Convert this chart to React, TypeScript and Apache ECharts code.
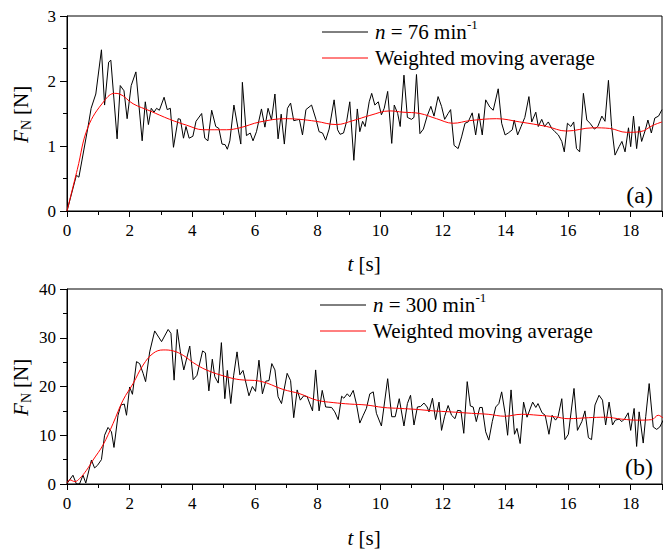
import React, { useEffect, useRef } from "react";
import * as echarts from "echarts";

// Panel (a): n = 76 min^-1, raw measured force [t (s), F_N (N)]
const rawA: [number, number][] = [
  [0, 0], [0.3, 0.55], [0.38, 0.52], [0.67, 1.29], [0.77, 1.58], [0.92, 1.8], [1.1, 2.48], [1.2, 1.63],
  [1.33, 2.29], [1.4, 2.32], [1.6, 1.11], [1.7, 1.93], [1.82, 1.85], [1.92, 1.42], [2.05, 1.93], [2.2, 2.14],
  [2.4, 1.08], [2.5, 1.68], [2.6, 1.33], [2.69, 1.58], [2.78, 1.52], [2.86, 1.58], [2.95, 1.55], [3.1, 1.75],
  [3.2, 1.56], [3.3, 1.58], [3.4, 0.98], [3.55, 1.42], [3.62, 1.41], [3.72, 1.12], [3.8, 1.3], [3.9, 1.12],
  [4.02, 1.15], [4.12, 1.38], [4.3, 1.5], [4.4, 1.12], [4.5, 1.08], [4.62, 1.55], [4.75, 1.3], [4.85, 1.27],
  [4.95, 1.03], [5.05, 1.02], [5.12, 0.95], [5.2, 1.08], [5.33, 1.63], [5.55, 1.03], [5.6, 1.98], [5.73, 1.16],
  [5.85, 1.2], [5.94, 1.08], [6.05, 1.22], [6.21, 1.57], [6.32, 1.29], [6.42, 1.58], [6.53, 1.4], [6.64, 1.8],
  [6.74, 1.11], [6.84, 1.49], [6.94, 1.03], [7.04, 1.58], [7.14, 1.66], [7.24, 1.39], [7.33, 1.4], [7.42, 1.41],
  [7.52, 1.17], [7.63, 1.56], [7.81, 1.63], [7.95, 1.41], [8.05, 1.22], [8.16, 1.2], [8.26, 1.09], [8.37, 1.26],
  [8.53, 1.71], [8.64, 1.25], [8.72, 1.18], [8.83, 1.2], [8.93, 1.38], [9.03, 1.68], [9.16, 0.78], [9.27, 1.57],
  [9.35, 1.22], [9.44, 1.38], [9.52, 1.3], [9.65, 1.68], [9.73, 1.81], [9.83, 1.63], [9.94, 1.68], [10.04, 1.48],
  [10.13, 1.58], [10.24, 1.84], [10.37, 1.04], [10.45, 1.63], [10.56, 1.5], [10.64, 1.3], [10.76, 2.09], [10.87, 1.44],
  [11.0, 1.41], [11.08, 1.44], [11.16, 2.1], [11.27, 1.19], [11.38, 1.26], [11.5, 1.46], [11.62, 1.61], [11.72, 1.46],
  [11.85, 1.76], [11.96, 1.61], [12.06, 1.41], [12.17, 1.5], [12.25, 1.56], [12.36, 1.01], [12.49, 0.96], [12.6, 1.14],
  [12.71, 1.35], [12.81, 1.37], [12.94, 1.51], [13.05, 1.17], [13.15, 1.5], [13.26, 1.17], [13.37, 1.71], [13.5, 1.6],
  [13.61, 1.55], [13.77, 1.88], [13.88, 1.35], [13.99, 1.17], [14.09, 1.2], [14.22, 1.25], [14.28, 1.4], [14.39, 1.17],
  [14.5, 1.3], [14.62, 1.44], [14.75, 1.76], [14.84, 1.37], [14.97, 1.52], [15.05, 1.3], [15.16, 1.41], [15.25, 1.3],
  [15.37, 1.37], [15.48, 1.27], [15.58, 1.22], [15.69, 1.17], [15.8, 1.07], [15.88, 0.91], [15.98, 1.35], [16.09, 1.3],
  [16.18, 1.37], [16.27, 0.96], [16.37, 0.91], [16.49, 1.81], [16.6, 1.4], [16.7, 1.35], [16.84, 1.26], [16.95, 1.3],
  [17.08, 1.46], [17.18, 1.38], [17.29, 2.01], [17.39, 1.3], [17.5, 0.86], [17.63, 0.99], [17.72, 1.07], [17.82, 0.91],
  [17.93, 1.28], [18.0, 0.99], [18.09, 1.46], [18.19, 0.96], [18.27, 1.3], [18.35, 1.07], [18.47, 1.25], [18.55, 1.4],
  [18.66, 1.2], [18.77, 1.43], [18.89, 1.46], [19.0, 1.56],
];

// Panel (a): weighted moving average
const avgA: [number, number][] = [
  [0, 0], [0.33, 0.64], [0.67, 1.29], [1.2, 1.7], [1.52, 1.81], [1.68, 1.8], [2.11, 1.65], [2.65, 1.54],
  [3.28, 1.41], [3.82, 1.32], [4.35, 1.25], [5.09, 1.25], [5.52, 1.28], [6.16, 1.37], [7.0, 1.42], [7.43, 1.41],
  [7.95, 1.38], [8.6, 1.33], [9.13, 1.39], [9.67, 1.47], [10.31, 1.54], [10.73, 1.52], [11.27, 1.5], [11.8, 1.42],
  [12.33, 1.35], [12.86, 1.39], [13.72, 1.42], [14.46, 1.37], [15.32, 1.3], [15.95, 1.23], [16.8, 1.28], [17.33, 1.27],
  [17.87, 1.21], [18.3, 1.22], [18.72, 1.32], [19.0, 1.37],
];

// Panel (b): n = 300 min^-1, raw measured force
const rawB: [number, number][] = [
  [0, 0.1], [0.19, 1.8], [0.3, 0], [0.4, 0], [0.51, 1.8], [0.6, 0.2], [0.78, 4.9], [0.88, 3.3], [0.97, 3.8],
  [1.1, 5.0], [1.2, 10.0], [1.31, 11.6], [1.42, 10.7], [1.5, 7.5], [1.63, 14.1], [1.72, 16.2], [1.83, 16.4],
  [1.9, 14.1], [2.0, 19.9], [2.09, 18.4], [2.22, 25.1], [2.32, 24.7], [2.43, 22.7], [2.51, 21.0], [2.64, 27.1],
  [2.8, 31.4], [3.02, 29.2], [3.23, 31.7], [3.32, 30.9], [3.42, 21.3], [3.52, 31.7], [3.62, 27.1], [3.73, 23.4],
  [3.92, 28.3], [4.03, 21.4], [4.15, 22.3], [4.33, 27.3], [4.42, 26.9], [4.53, 19.1], [4.64, 25.6], [4.72, 22.0],
  [4.83, 20.7], [4.93, 29.0], [5.04, 17.5], [5.12, 23.3], [5.23, 16.5], [5.32, 22.2], [5.43, 27.1], [5.52, 22.4],
  [5.62, 23.3], [5.73, 20.3], [5.81, 18.1], [5.92, 20.0], [6.02, 19.0], [6.13, 25.4], [6.24, 18.5], [6.35, 21.1],
  [6.45, 21.2], [6.54, 24.7], [6.64, 23.4], [6.74, 17.9], [6.85, 16.5], [7.03, 22.7], [7.14, 21.2], [7.24, 13.6],
  [7.35, 19.3], [7.45, 17.2], [7.56, 18.1], [7.67, 17.9], [7.84, 15.0], [7.94, 23.4], [8.05, 15.0], [8.15, 19.2],
  [8.26, 15.8], [8.45, 15.7], [8.55, 14.8], [8.66, 13.2], [8.77, 18.0], [8.84, 17.6], [8.95, 18.5], [9.03, 17.9],
  [9.14, 19.2], [9.24, 16.5], [9.35, 12.5], [9.46, 14.1], [9.56, 15.5], [9.67, 18.5], [9.78, 18.9], [9.88, 14.5],
  [10.04, 11.9], [10.24, 21.6], [10.37, 13.8], [10.48, 13.8], [10.61, 17.5], [10.76, 11.9], [10.87, 16.5],
  [10.97, 18.2], [11.08, 12.1], [11.19, 15.8], [11.29, 15.9], [11.4, 16.6], [11.5, 15.8], [11.56, 14.8],
  [11.67, 17.6], [11.77, 13.2], [11.88, 16.8], [11.96, 11.0], [12.06, 13.9], [12.17, 16.1], [12.28, 14.1],
  [12.39, 13.4], [12.47, 15.1], [12.58, 15.0], [12.67, 10.4], [12.78, 21.0], [12.88, 16.0], [12.97, 15.8],
  [13.07, 12.8], [13.18, 15.7], [13.26, 15.7], [13.37, 10.7], [13.47, 9.0], [13.58, 12.8], [13.69, 15.8],
  [13.79, 16.5], [13.88, 18.9], [13.99, 14.5], [14.07, 10.0], [14.18, 19.3], [14.29, 10.2], [14.37, 11.4],
  [14.47, 8.3], [14.58, 16.8], [14.69, 13.7], [14.87, 16.8], [14.97, 15.7], [15.04, 16.5], [15.17, 14.6],
  [15.27, 14.1], [15.39, 10.2], [15.49, 14.1], [15.6, 13.1], [15.68, 13.8], [15.8, 17.5], [15.9, 9.1],
  [16.01, 10.2], [16.19, 19.6], [16.3, 11.0], [16.44, 12.8], [16.54, 15.0], [16.65, 9.5], [16.75, 9.1],
  [16.86, 16.2], [16.99, 18.2], [17.1, 17.2], [17.2, 12.1], [17.31, 16.8], [17.42, 12.1], [17.51, 13.1],
  [17.63, 13.3], [17.72, 12.8], [17.81, 13.4], [17.92, 14.6], [18.0, 11.0], [18.11, 15.5], [18.19, 7.7],
  [18.27, 14.8], [18.4, 8.4], [18.48, 13.8], [18.59, 20.6], [18.72, 11.7], [18.83, 11.2], [18.93, 11.7],
  [19.04, 13.1],
];

// Panel (b): weighted moving average
const avgB: [number, number][] = [
  [0, 0.2], [0.09, 0.85], [0.25, 0.5], [0.4, 1.1], [0.62, 2.8], [0.83, 4.9], [1.15, 8.0], [1.47, 12.4],
  [1.79, 17.2], [2.11, 20.6], [2.43, 24.4], [2.75, 26.8], [3.07, 27.5], [3.39, 27.3], [3.71, 26.4], [4.03, 24.9],
  [4.45, 23.4], [5.09, 22.0], [5.52, 21.4], [6.16, 21.1], [6.9, 19.4], [7.44, 18.5], [7.97, 17.2], [8.5, 16.7],
  [9.03, 16.4], [9.56, 16.2], [10.1, 15.7], [10.63, 15.5], [11.16, 15.3], [11.7, 15.0], [12.23, 14.8],
  [12.92, 14.5], [13.45, 14.3], [13.98, 13.9], [14.51, 14.3], [15.04, 14.1], [15.57, 13.8], [16.0, 13.4],
  [16.65, 13.6], [17.18, 13.7], [17.72, 13.3], [18.25, 13.1], [18.67, 13.2], [18.88, 14.1], [19.04, 13.5],
];

const xRange = { min: 0, max: 19, interval: 2 };
const yRangeA = { min: 0, max: 3, interval: 1 };
const yRangeB = { min: 0, max: 40, interval: 10 };
const speedLabels = [" = 76 min", " = 300 min"];
const avgLabel = "Weighted moving average";
const panelLabels = ["(a)", "(b)"];

const SERIF = "Liberation Serif";
const FONT_CSS = `#root svg text, #root svg tspan { font-family: "Liberation Serif", "Times New Roman", serif !important; }`;

export default function App() {
  const ref = useRef<HTMLDivElement>(null);

  useEffect(() => {
    if (!ref.current) return;
    const chart = echarts.init(ref.current, undefined, { renderer: "svg" });

    const makeX = (gridIndex: number) => ({
      type: "value",
      gridIndex,
      min: xRange.min,
      max: xRange.max,
      interval: xRange.interval,
      axisLine: { show: true, onZero: false, lineStyle: { color: "#000", width: 1 } },
      axisTick: { show: true, inside: false, length: 6, lineStyle: { color: "#000", width: 1 } },
      minorTick: { show: true, splitNumber: 2, length: 4, lineStyle: { color: "#000", width: 1 } },
      axisLabel: { fontFamily: SERIF, fontSize: 17, color: "#000", margin: 11, showMaxLabel: false },
      splitLine: { show: false },
    });

    const makeY = (gridIndex: number, r: { min: number; max: number; interval: number }) => ({
      type: "value",
      gridIndex,
      min: r.min,
      max: r.max,
      interval: r.interval,
      axisLine: { show: true, onZero: false, lineStyle: { color: "#000", width: 1 } },
      axisTick: { show: true, inside: false, length: 7, lineStyle: { color: "#000", width: 1 } },
      minorTick: { show: true, splitNumber: 2, length: 4, lineStyle: { color: "#000", width: 1 } },
      axisLabel: { fontFamily: SERIF, fontSize: 17, color: "#000", margin: 11 },
      splitLine: { show: false },
    });

    const txt = (x: number, y: number, text: string, size: number, opts: any = {}) => ({
      type: "text",
      silent: true,
      x,
      y,
      style: {
        text,
        fontFamily: SERIF,
        fontSize: size,
        fontStyle: opts.italic ? "italic" : "normal",
        fill: "#000",
        align: opts.align || "left",
        verticalAlign: opts.va || "middle",
      },
    });

    const legendBlock = (x0: number, y0: number, speed: string) => [
      { type: "line", silent: true, shape: { x1: x0, y1: y0, x2: x0 + 46, y2: y0 }, style: { stroke: "#000", lineWidth: 1 } },
      txt(x0 + 53, y0, "n", 21, { italic: true }),
      txt(x0 + 63.5, y0, speed, 21),
      txt(x0 + 63.5 + (speed.length > 9 ? 92 : 81.5), y0 - 8, "-1", 13),
      { type: "line", silent: true, shape: { x1: x0, y1: y0 + 26, x2: x0 + 46, y2: y0 + 26 }, style: { stroke: "#ff0000", lineWidth: 1 } },
      txt(x0 + 53, y0 + 26, avgLabel, 21),
    ];

    const axisTitles = (xCenter: number, xTitleY: number, yTitleX: number, yCenter: number) => [
      txt(xCenter - 16.5, xTitleY, "t", 21, { italic: true }),
      txt(xCenter - 5.5, xTitleY, "[s]", 21),
      {
        type: "group",
        x: yTitleX,
        y: yCenter,
        rotation: Math.PI / 2,
        children: [
          txt(-29, 0, "F", 21, { italic: true }),
          txt(-16, 5, "N", 14),
          txt(-1, 0, "[N]", 21),
        ],
      },
    ];

    const option: any = {
      animation: false,
      backgroundColor: "#ffffff",
      textStyle: { fontFamily: SERIF },
      grid: [
        { left: 67, top: 16, width: 595, height: 195, show: true, borderColor: "#000", borderWidth: 1, containLabel: false },
        { left: 67, top: 289, width: 595, height: 195, show: true, borderColor: "#000", borderWidth: 1, containLabel: false },
      ],
      xAxis: [makeX(0), makeX(1)],
      yAxis: [makeY(0, yRangeA), makeY(1, yRangeB)],
      series: [
        {
          name: "n = 76 min-1",
          type: "line",
          xAxisIndex: 0,
          yAxisIndex: 0,
          data: rawA,
          showSymbol: false,
          symbol: "none",
          lineStyle: { color: "#000", width: 1 },
          itemStyle: { color: "#000" },
          z: 2,
        },
        {
          name: "Weighted moving average (a)",
          type: "line",
          xAxisIndex: 0,
          yAxisIndex: 0,
          data: avgA,
          smooth: 0.4,
          showSymbol: false,
          symbol: "none",
          lineStyle: { color: "#ff0000", width: 1 },
          itemStyle: { color: "#ff0000" },
          z: 3,
        },
        {
          name: "n = 300 min-1",
          type: "line",
          xAxisIndex: 1,
          yAxisIndex: 1,
          data: rawB,
          showSymbol: false,
          symbol: "none",
          lineStyle: { color: "#000", width: 1 },
          itemStyle: { color: "#000" },
          z: 2,
        },
        {
          name: "Weighted moving average (b)",
          type: "line",
          xAxisIndex: 1,
          yAxisIndex: 1,
          data: avgB,
          smooth: 0.4,
          showSymbol: false,
          symbol: "none",
          lineStyle: { color: "#ff0000", width: 1 },
          itemStyle: { color: "#ff0000" },
          z: 3,
        },
      ],
      graphic: [
        ...legendBlock(322, 32, speedLabels[0]),
        ...legendBlock(320, 305, speedLabels[1]),
        ...axisTitles(364, 264, 21, 114),
        ...axisTitles(364, 538, 21, 387),
        txt(653, 195, panelLabels[0], 24, { align: "right" }),
        txt(653, 467, panelLabels[1], 24, { align: "right" }),
      ],
    };

    chart.setOption(option);
    return () => chart.dispose();
  }, []);

  return (
    <>
      <style>{FONT_CSS}</style>
      <div
        ref={ref}
        style={{ position: "absolute", left: 0, top: 0, width: 663, height: 549, background: "#fff" }}
      />
    </>
  );
}
